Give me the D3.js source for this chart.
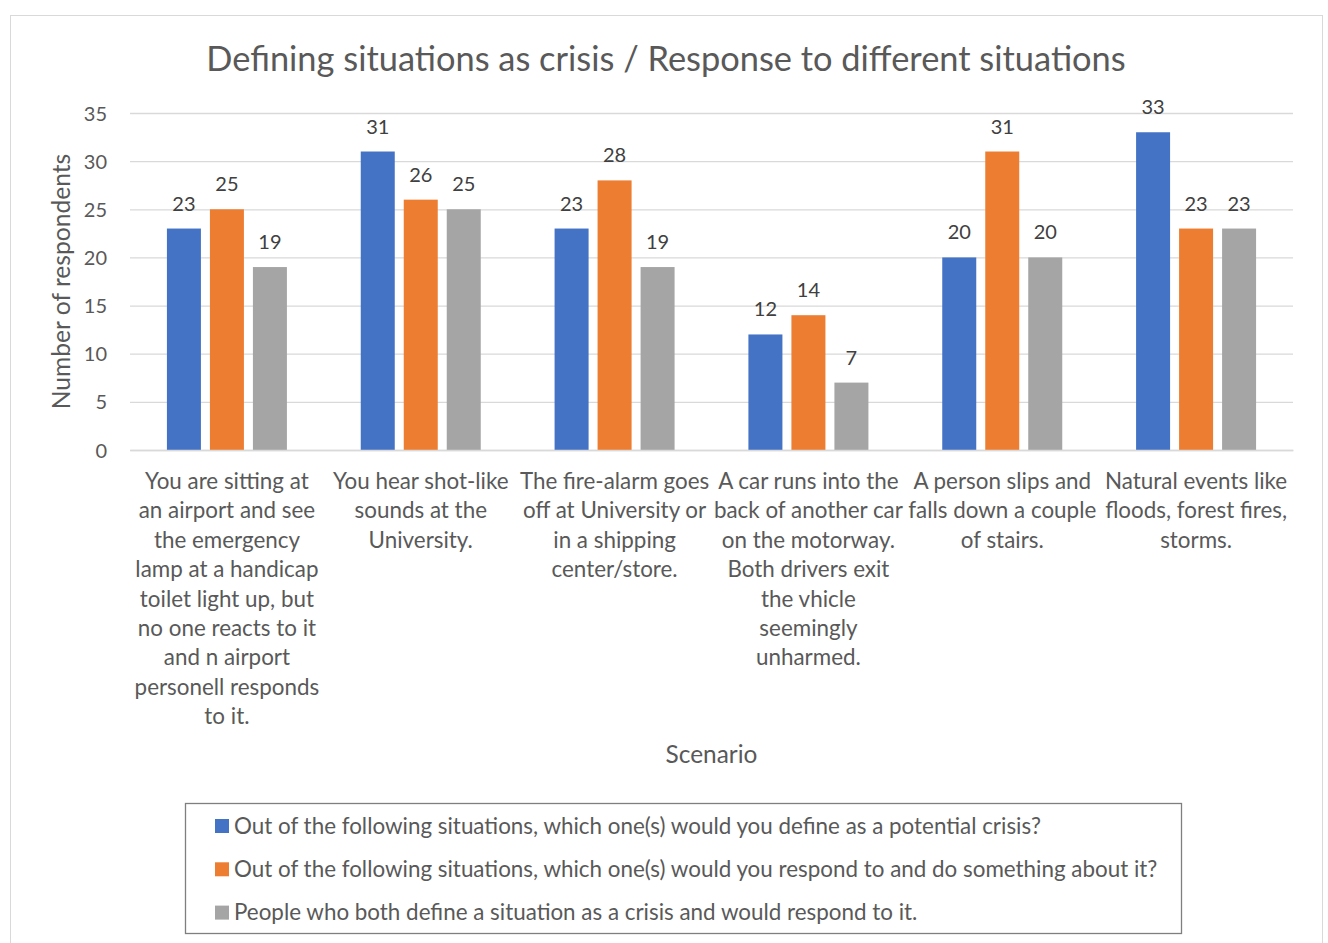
<!DOCTYPE html>
<html><head><meta charset="utf-8">
<script src="https://cdn.jsdelivr.net/npm/d3@7"></script>
<style>
html,body{margin:0;padding:0;background:#fff;}
svg text{font-family:Lato,"Open Sans",sans-serif;}
</style></head>
<body><svg id="c" width="1328" height="943"></svg>
<script>
const title = "Defining situations as crisis / Response to different situations";
const categories = [
  "You are sitting at an airport and see the emergency lamp at a handicap toilet light up, but no one reacts to it and n airport personell responds to it.",
  "You hear shot-like sounds at the University.",
  "The fire-alarm goes off at University or in a shipping center/store.",
  "A car runs into the back of another car on the motorway. Both drivers exit the vhicle seemingly unharmed.",
  "A person slips and falls down a couple of stairs.",
  "Natural events like floods, forest fires, storms."
];
const categoryLines = [
  ["You are sitting at","an airport and see","the emergency","lamp at a handicap","toilet light up, but","no one reacts to it","and n airport","personell responds","to it."],
  ["You hear shot-like","sounds at the","University."],
  ["The fire-alarm goes","off at University or","in a shipping","center/store."],
  ["A car runs into the","back of another car","on the motorway.","Both drivers exit","the vhicle","seemingly","unharmed."],
  ["A person slips and","falls down a couple","of stairs."],
  ["Natural events like","floods, forest fires,","storms."]
];
const seriesNames = [
  "Out of the following situations, which one(s) would you define as a potential crisis?",
  "Out of the following situations, which one(s) would you respond to and do something about it?",
  "People who both define a situation as a crisis and would respond to it."
];
const defineCrisis = [23, 31, 23, 12, 20, 33];
const respondTo = [25, 26, 28, 14, 31, 23];
const both = [19, 25, 19, 7, 20, 23];
const yTicks = [0, 5, 10, 15, 20, 25, 30, 35];
const colors = ["#4472C4", "#ED7D31", "#A5A5A5"];

(function(){
const series = [defineCrisis, respondTo, both];
const svg = d3.select("#c");

svg.append("rect").attr("x", 10.5).attr("y", 15.5).attr("width", 1312).attr("height", 940)
  .attr("fill", "none").attr("stroke", "#D9D9D9").attr("stroke-width", 1);

const pL = 130, pR = 1293, pT = 113, pB = 450;
const x0 = d3.scaleBand().domain(d3.range(categories.length)).range([pL, pR]).paddingInner(0).paddingOuter(0);
const gw = x0.bandwidth();
const barW = 34, gap = 9;
const x1 = d3.scaleBand().domain(d3.range(3)).range([(gw - (3*barW + 2*gap)) / 2, (gw + (3*barW + 2*gap)) / 2]).paddingInner(gap/(barW+gap)).paddingOuter(0);
const y = d3.scaleLinear().domain([0, 35]).range([pB, pT]);

const yAxis = d3.axisLeft(y).tickValues(yTicks).tickSize(-(pR - pL)).tickFormat(d3.format("d")).tickPadding(23);
const gy = svg.append("g").attr("transform", `translate(${pL},0)`).call(yAxis);
gy.select(".domain").remove();
gy.selectAll(".tick line").attr("stroke", "#D9D9D9").attr("stroke-width", 1.3);
gy.selectAll(".tick text").attr("fill", "#595959").style("font-size", "20px").attr("dy", "0.35em");

const groups = svg.append("g").selectAll("g").data(categories).join("g")
  .attr("transform", (d, i) => `translate(${x0(i)},0)`);
groups.selectAll("rect").data((d, i) => series.map((s, k) => ({k, v: s[i]}))).join("rect")
  .attr("x", d => x1(d.k)).attr("width", x1.bandwidth())
  .attr("y", d => y(d.v)).attr("height", d => y(0) - y(d.v))
  .attr("fill", d => colors[d.k]);
groups.selectAll("text.lbl").data((d, i) => series.map((s, k) => ({k, v: s[i]}))).join("text")
  .attr("class", "lbl")
  .attr("x", d => x1(d.k) + x1.bandwidth()/2).attr("y", d => y(d.v) - 18)
  .attr("text-anchor", "middle").attr("fill", "#404040").style("font-size", "20px")
  .text(d => d.v);

const xAxis = d3.axisBottom(x0).tickSize(0).tickFormat(() => "");
const gx = svg.append("g").attr("transform", `translate(0,${pB})`).call(xAxis);
gx.select(".domain").attr("stroke", "#D9D9D9").attr("stroke-width", 1.3);
gx.selectAll(".tick").each(function(d) {
  const t = d3.select(this).select("text").attr("fill", "#595959").style("font-size", "22.4px")
    .attr("text-anchor", "middle").attr("y", 0).attr("dy", null);
  categoryLines[d].forEach((ln, j) => {
    t.append("tspan").attr("x", 0).attr("y", 39 + j * 29.4).text(ln);
  });
});

svg.append("text").attr("x", 666).attr("y", 71).attr("text-anchor", "middle")
  .attr("fill", "#595959").style("font-size", "34.4px").text(title);

svg.append("text").attr("transform", `translate(70,${(pT+pB)/2}) rotate(-90)`)
  .attr("text-anchor", "middle").attr("fill", "#595959").style("font-size", "24.6px").text("Number of respondents");
svg.append("text").attr("x", (pL + pR) / 2).attr("y", 763).attr("text-anchor", "middle")
  .attr("fill", "#595959").style("font-size", "24.4px").text("Scenario");

svg.append("rect").attr("x", 185.5).attr("y", 803.5).attr("width", 996).attr("height", 130)
  .attr("fill", "none").attr("stroke", "#7F7F7F").attr("stroke-width", 1.3);
const lg = svg.append("g").selectAll("g").data(seriesNames).join("g")
  .attr("transform", (d, i) => `translate(215,${826 + i * 43.3})`);
lg.append("rect").attr("x", 0).attr("y", -7).attr("width", 14).attr("height", 14).attr("fill", (d, i) => colors[i]);
lg.append("text").attr("x", 19).attr("y", 0).attr("dy", "0.35em").attr("fill", "#595959")
  .style("font-size", "22.4px").text(d => d);
})();
</script></body></html>
